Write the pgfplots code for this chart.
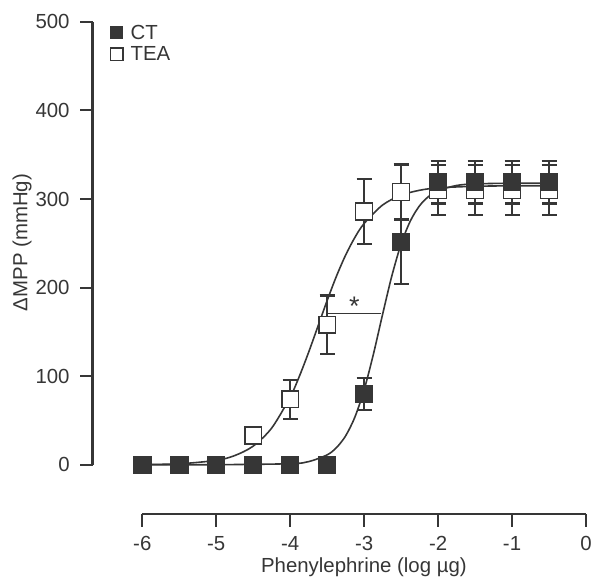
\documentclass[border=0pt]{standalone}
\usepackage{fontspec}
\setmainfont{Liberation Sans}
\usepackage{pgfplots}
\pgfplotsset{compat=1.18}
\definecolor{ink}{HTML}{363636}
\begin{document}
\begin{tikzpicture}
\begin{axis}[
  scale only axis, width=496pt, height=495pt,
  xmin=-6.673, xmax=0, ymin=-56, ymax=500,
  axis x line=bottom, axis y line=left,
  axis line style={draw=none},
  xtick={-6,-5,-4,-3,-2,-1,0}, ytick={0,100,200,300,400,500},
  tick align=outside, major tick length=12.5pt,
  tick style={ink, line width=2pt},
  /pgf/number format/assume math mode=true,
  ticklabel style={font=\fontsize{20.5}{23}\selectfont, text=ink},
  yticklabel style={xshift=-7pt},
  xticklabel style={yshift=-6pt},
  xlabel={Phenylephrine (log µg)}, ylabel={ΔMPP (mmHg)},
  label style={font=\fontsize{20.5}{23}\selectfont, text=ink},
  xlabel style={at={(ticklabel cs:0.55)}, yshift=0pt},
  ylabel style={at={(ticklabel cs:0.552)}, yshift=-3pt},
  clip=false,
  legend style={at={(axis cs:-6.444,498)}, anchor=north west, draw=none, fill=none,
    font=\fontsize{20.5}{23}\selectfont, text=ink, row sep=4pt, inner sep=0pt,
    nodes={inner sep=1pt}, /tikz/every odd column/.append style={column sep=6pt}},
  legend cell align=left,
]
% page frame (room around the plot, as in the reference)
\path (axis cs:-7.924,524.7) (axis cs:0.081,-128);
% axis lines (range frame)
\draw[ink, line width=2.2pt] (axis cs:-6,-56) -- (axis cs:0,-56);
\draw[ink, line width=2.2pt] (axis cs:-6.673,0) -- (axis cs:-6.673,500);

\addlegendimage{legend image code/.code={\node[draw=ink, fill=ink, line width=1pt, minimum size=12.5pt, inner sep=0pt] at (6.25pt,0pt) {};}}
\addlegendentry{CT}
\addlegendimage{legend image code/.code={\node[draw=ink, fill=white, line width=1.5pt, minimum size=12.5pt, inner sep=0pt] at (6.25pt,0pt) {};}}
\addlegendentry{TEA}

% fitted curves
\addplot[ink, line width=1.6pt, smooth, forget plot] coordinates {
(-6,0.3) (-5.5,1.1) (-5,5.0) (-4.75,10.4) (-4.5,21.1) (-4.25,41.5) (-4,76.5)
(-3.875,100.1) (-3.75,127.2) (-3.625,156.3) (-3.5,185.5) (-3.375,212.8)
(-3.25,236.8) (-3.125,256.7) (-3,272.4) (-2.75,293.3) (-2.5,304.3)
(-2.25,309.9) (-2,312.6) (-1.5,314.4) (-1,314.9) (-0.5,315)};
\addplot[ink, line width=1.6pt, smooth, forget plot] coordinates {
(-6,0) (-5,0.1) (-4,1.2) (-3.75,3.6) (-3.5,11.2) (-3.375,19.3) (-3.25,32.7)
(-3.125,53.9) (-3,84.7) (-2.875,124.8) (-2.75,170.0) (-2.625,213.4)
(-2.5,249.3) (-2.375,275.3) (-2.25,292.5) (-2.125,303.1) (-2,309.5)
(-1.75,315.3) (-1.5,317.1) (-1,317.9) (-0.5,318)};

% significance bracket
\addplot[ink, line width=0.8pt, forget plot] coordinates {(-3.51,171) (-2.77,171)};
\node[anchor=south, text=ink, font=\fontsize{27}{28}\selectfont, inner sep=0pt] at (axis cs:-3.134,168) {*};

% TEA
\addplot[only marks, mark=square*, mark size=8.5pt, forget plot,
  mark options={draw=ink, fill=white, line width=1.6pt},
  error bars/.cd, y dir=both, y explicit,
  error bar style={ink, line width=2.2pt},
  error mark options={rotate=90, mark size=7.5pt, line width=2.2pt, ink}]
coordinates {
(-6,0) +- (0,0) (-5.5,0) +- (0,0) (-5,0) +- (0,0)
(-4.5,33) +- (0,0) (-4,74) +- (0,22) (-3.5,158) +- (0,33) (-3,286) +- (0,37)
(-2.5,308) +- (0,31) (-2,310) +- (0,28) (-1.5,310) +- (0,28) (-1,310) +- (0,28) (-0.5,310) +- (0,28)};

% CT
\addplot[only marks, mark=square*, mark size=8.5pt, forget plot,
  mark options={draw=ink, fill=ink, line width=1pt},
  error bars/.cd, y dir=both, y explicit,
  error bar style={ink, line width=2.2pt},
  error mark options={rotate=90, mark size=7.5pt, line width=2.2pt, ink}]
coordinates {
(-6,0) +- (0,0) (-5.5,0) +- (0,0) (-5,0) +- (0,0) (-4.5,0) +- (0,0)
(-4,0) +- (0,0) (-3.5,0) +- (0,0) (-3,80) +- (0,18) (-2.5,252) +- (0,48)
(-2,319) +- (0,24) (-1.5,319) +- (0,24) (-1,319) +- (0,24) (-0.5,319) +- (0,24)};
\end{axis}
\end{tikzpicture}
\end{document}
